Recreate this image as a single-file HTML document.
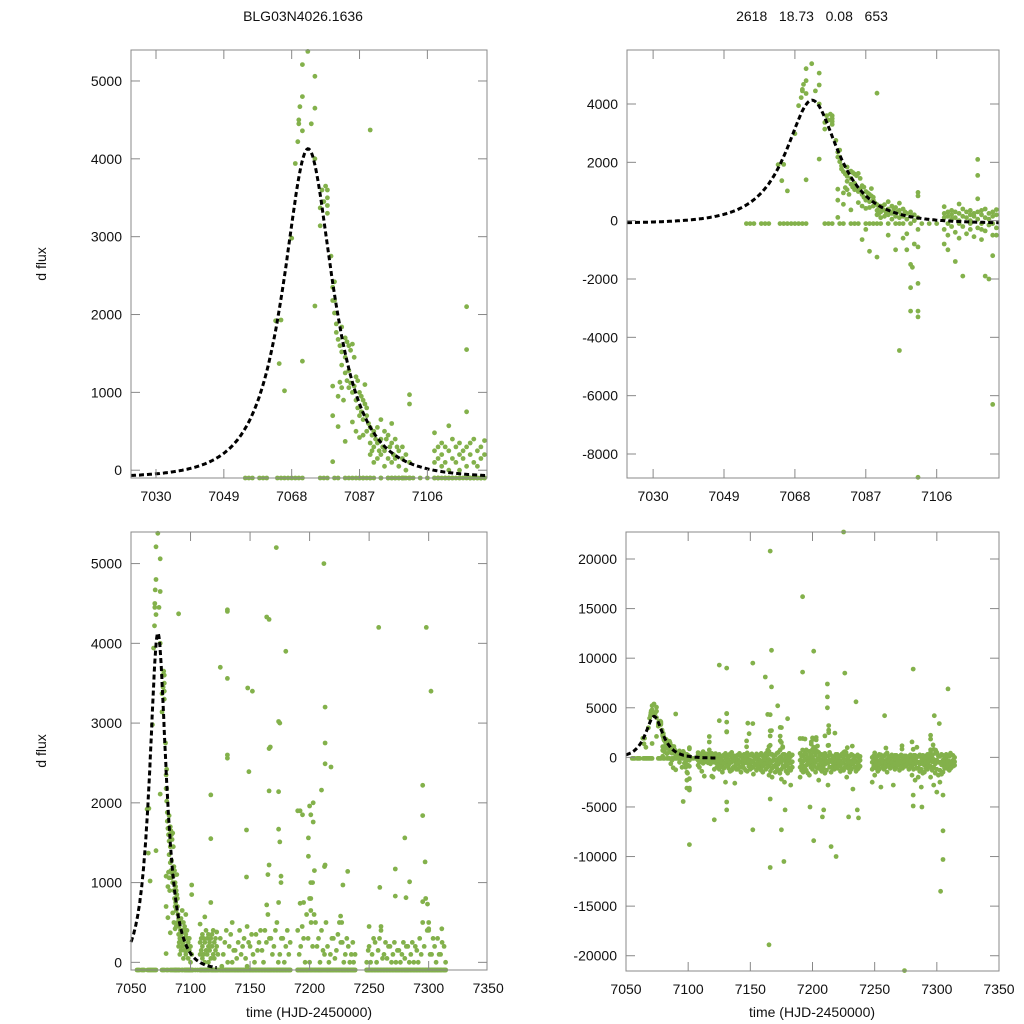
<!DOCTYPE html>
<html><head><meta charset="utf-8"><style>
html,body{margin:0;padding:0;background:#fff}
svg{display:block;font-family:"Liberation Sans",Arial,sans-serif}
</style></head><body>
<svg id="chart" width="1024" height="1024" viewBox="0 0 1024 1024">
<text x="303" y="21" font-size="14" text-anchor="middle" fill="#111">BLG03N4026.1636</text>
<text x="812" y="21" font-size="14" text-anchor="middle" fill="#111" xml:space="preserve">2618   18.73   0.08   653</text>
<text x="0" y="0" font-size="14" text-anchor="middle" fill="#111" transform="translate(46,264) rotate(-90)">d flux</text>
<text x="0" y="0" font-size="14" text-anchor="middle" fill="#111" transform="translate(46,751) rotate(-90)">d flux</text>
<text x="309" y="1017" font-size="14" text-anchor="middle" fill="#111">time (HJD-2450000)</text>
<text x="812" y="1017" font-size="14" text-anchor="middle" fill="#111">time (HJD-2450000)</text>
</svg>
<script>
// model parameters: t0, tE, u0, source-flux scale, baseline
const modelParams=[7072.6,12.8,0.6,4785,-100];
const topXTicks=[7030,7049,7068,7087,7106];
const bottomXTicks=[7050,7100,7150,7200,7250,7300,7350];
const tlYTicks=[0,1000,2000,3000,4000,5000];
const trYTicks=[-8000,-6000,-4000,-2000,0,2000,4000];
const blYTicks=[0,1000,2000,3000,4000,5000];
const brYTicks=[-20000,-15000,-10000,-5000,0,5000,10000,15000,20000];
// baseline (flagged) observations
const baseTimes=[7055,7056,7057,7059,7060,7061,7064,7065,7066,7067,7068,7069,7070,7071,7076,7077,7078,7080,7081,7083,7084,7085,7087,7088,7089,7090,7091,7093,7095,7096,7097,7099,7102,7104,7106,7109,7112,7115,7118,7121];
// peak observations [time, flux]
const peakObs=[[7063.5,1920],[7065,1930],[7064.5,1370],[7066,1020],[7068,2980],[7069,3940],[7069.7,4220],[7070,4450],[7070,4500],[7070.3,4670],[7071,4800],[7071,5210],[7071,4360],[7071,1400],[7072.5,5380],[7073.5,4450],[7074.5,5060],[7074.5,4650],[7074.5,4000],[7074.5,2110],[7076,3370],[7076,3140],[7076.5,3600],[7077,3450],[7077.5,3650],[7078,3600],[7078,3500],[7078,3300],[7078,3400],[7079,2750],[7079.5,2350],[7079.5,2180],[7080,2420],[7080,2180],[7080,2020],[7079.5,1080],[7079.5,700],[7079.5,110],[7080.5,1880],[7080.5,1770],[7081,1680],[7081,950],[7081,560],[7081.5,1600],[7081.5,1130],[7082,1520],[7082,1350],[7082,1840],[7082,1060],[7082.5,900],[7083,1700],[7083,1450],[7083,1250],[7083,370],[7083.5,1650],[7083.5,1150],[7084,1600],[7084,1280],[7084,1060],[7084.5,1540],[7084.5,1120],[7085,1620],[7085,1000],[7085,620],[7085.5,1450],[7085.5,1080],[7086,1200],[7086,900],[7086,500],[7086.5,1150],[7086.5,800],[7087,1000],[7087,700],[7087,420],[7087.5,950],[7087.5,750],[7088,900],[7088,650],[7088,450],[7088.5,1100],[7088.5,850],[7089,800],[7089,700],[7089,500],[7089.5,600],[7090,4370],[7090,550],[7090,350],[7090,200],[7090.5,450],[7090.5,250],[7091,500],[7091,300],[7091,100],[7091.5,400],[7092,550],[7092,350],[7092,150],[7092.5,250],[7093,650],[7093,400],[7093,200],[7093.5,300],[7094,500],[7094,250],[7094,50],[7094.5,400],[7095,450],[7095,150],[7095.5,300],[7096,600],[7096,350],[7096,100],[7096.5,200],[7097,400],[7097,150],[7097.5,300],[7098,250],[7098,50],[7099,300],[7099,150],[7100,200],[7100,0],[7101,970],[7101,850],[7101,100],
[7097,-600],[7098,-1000],[7098,-450],[7099,-1500],[7099,-2300],[7099,-3100],[7099.5,-1600],[7100,-800],[7101,-2150],[7101,-3100],[7101,-3300],[7101,-900],[7101,-300],[7096,-4450],[7101,-8800],[7088,-1050],[7090,-1250],[7086,-650],[7087,-300],[7093,-500],[7095,-1000]];
const lateObs=[[7108,480],[7108,100],[7108,250],[7108,-800],[7109,300],[7109,150],[7109,-1000],[7110,350],[7110,50],[7110,200],[7111,300],[7111,100],[7111,-1400],[7112,570],[7112,250],[7112,0],[7113,400],[7113,150],[7113,-1900],[7114,300],[7114,100],[7115,350],[7115,200],[7115,0],[7116,250],[7116,150],[7117,2100],[7117,1550],[7117,750],[7117,300],[7117,50],[7118,350],[7118,200],[7118,-300],[7119,400],[7119,100],[7119,-1900],[7120,250],[7120,-2000],[7120,50],[7121,300],[7121,150],[7121,-6300],[7121,-1200],[7122,200],[7122,-500],[7122,380],[7123,100],[7123,-1000],
[7108,-300],[7109,-500],[7110,-200],[7111,-400],[7112,-600],[7113,-200],[7114,-450],[7115,-300],[7116,-550],[7117,-250],[7118,-650],[7119,-350],[7120,-150],[7121,-500],[7122,-250],[7123,-600]];
// season clusters: time and flux samples
const clusterTimes=[7125,7127.5,7130,7132.5,7135,7137.5,7140,7142.5,7145,7147.5,7150,7152.5,7155,7157.5,7160,7162.5,7165,7167.5,7170,7172.5,7175,7177.5,7180,7182.5,
7190,7192.5,7195,7197.5,7200,7202.5,7205,7207.5,7210,7212.5,7215,7217.5,7220,7222.5,7225,7227.5,7230,7232.5,7235,7237,
7248,7250,7252.5,7255,7257.5,7260,7262.5,7265,7267.5,7270,7272.5,7275,7277.5,7280,7282.5,7285,7287.5,7290,7292.5,7295,7297.5,7300,7302.5,7305,7307.5,7310,7313];
const clusterFlux=[[300,-200,-700,-1200],[100,-400,-900,-1500],[400,-100,-600,-2500],[200,-300,-800,-1100],[500,0,-500,-1300],[150,-350,-900,-2600],[250,-250,-700,-1200],[100,-450,-1000,-1500],[300,-150,-600,-1100],[450,-50,-550,-1400],[200,-300,-800,-1200],[100,-400,-1000,-1700],[350,-200,-700,-1300],[250,-250,-750,-1100],[150,-350,-900,-1500],[400,-100,-600,-1200],[600,-200,-900,-1800],[300,-400,-1100,-2000],[200,-300,-800,-1500],[500,-150,-700,-1300],[100,-500,-1200,-2200],[300,-300,-1000,-2500],[200,-400,-900,-1600],[100,-600,-1300,-2800],
[400,-300,-1000,-2000],[200,-400,-900,-1500],[300,-200,-800,-1300],[600,-100,-700,-1800],[800,0,-600,-1200],[1000,200,-500,-1500],[500,-100,-800,-2300],[300,-300,-900,-1400],[400,-200,-700,-1600],[1200,100,-600,-2800],[200,-400,-1000,-1500],[100,-300,-800,-1200],[300,-200,-700,-1100],[150,-350,-900,-1400],[500,-100,-600,-1300],[250,-250,-800,-2000],[100,-400,-900,-1500],[200,-300,-700,-3200],[100,-400,-1000,-1400],[0,-500,-1100,-800],
[0,-500,-1200,-2500],[200,-300,-800,-1800],[100,-400,-900,-1400],[250,-250,-700,-3000],[150,-350,-800,-1200],[400,-200,-600,-1500],[100,-300,-700,-1100],[50,-400,-900,-2800],[200,-250,-600,-1000],[100,-350,-700,-1300],[0,-300,-600,-1100],[150,-250,-500,-900],[100,-300,-700,-1200],[50,-400,-900,-1800],[200,-200,-700,-2300],[100,-500,-1100,-2000],[0,-400,-1200,-3000],[150,-300,-800,-1500],[300,-200,-700,-1200],[500,-100,-900,-2000],[800,-200,-1000,-2800],[400,-300,-1200,-3500],[100,-500,-1300,-2500],[200,-300,-800,-1500],[300,-200,-700,-1100],[100,-400,-900,-1300],[200,-300,-600,-900]];
// second pass samples in each cluster, taken 1.25 d later
const clusterFluxB=[[-50,-450,-950],[250,-600,-1100],[0,-350,-850],[350,-550,-1400],[150,-250,-1000],[50,-650,-1200],[400,-450,-950],[200,-150,-800],[50,-400,-1300],[250,-350,-900],[350,-500,-1050],[0,-200,-800],[150,-550,-1000],[400,-450,-1300],[0,-150,-700],[250,-500,-1000],[300,-600,-1400],[100,-200,-900],[400,-550,-1100],[0,-400,-1600],[300,-200,-900],[0,-650,-1400],[400,-150,-1100],[250,-450,-1000],
[100,-650,-1300],[450,-150,-1100],[0,-500,-1600],[300,-400,-1000],[500,-300,-900],[600,-250,-1100],[200,-450,-1200],[0,-600,-1100],[150,-400,-1300],[500,-300,-1000],[0,-550,-1200],[300,-500,-1000],[50,-450,-900],[350,-600,-1200],[250,-300,-1000],[0,-500,-1100],[300,-600,-1200],[0,-450,-1000],[250,-650,-1200],[100,-300,-900],
[150,-250,-900],[0,-550,-1100],[300,-650,-1200],[0,-450,-1000],[300,-550,-1000],[50,-400,-900],[250,-500,-900],[200,-650,-1200],[0,-450,-800],[250,-500,-1000],[150,-450,-900],[0,-400,-700],[250,-500,-1000],[200,-650,-1200],[0,-450,-1100],[250,-700,-1400],[200,-650,-1600],[0,-500,-1100],[100,-450,-1000],[200,-450,-1300],[400,-650,-1600],[100,-500,-1800],[300,-750,-1700],[0,-500,-1100],[100,-450,-900],[250,-600,-1100],[0,-450,-800]];
const outlierObs=[[7125,9300],[7131,9000],[7131,4400],[7131,2600],[7125,3700],[7131,-4500],[7131,-5300],[7152,9500],[7152,3400],[7152,-7300],[7162,8100],[7166,4300],[7167,10800],[7167,7100],[7167,2700],[7166,20800],[7166,-11100],[7166,-4200],[7172,5200],[7175,3000],[7175,-7300],[7177,-10500],[7178,-5300],[7180,3900],[7165,-18900],[7192,16200],[7192,8600],[7192,1900],[7201,10700],[7201,-8400],[7198,-5000],[7212,7400],[7212,6100],[7212,5000],[7213,3200],[7215,-9000],[7219,-10000],[7208,-6000],[7209,-5300],[7225,22800],[7226,8500],[7229,-6000],[7235,5600],[7237,-6100],[7236,-5300],[7258,4200],[7274,-21500],[7281,8900],[7281,-3800],[7281,-4900],[7288,-5000],[7298,4200],[7302,3400],[7303,-13500],[7305,-10300],[7305,-7400],[7305,-3800],[7309,6900],
[7131,4420],[7131,3560],[7131,2560],[7148,3440],[7149,2390],[7147,1660],[7147,1070],[7164,4330],[7166,2680],[7166,2150],[7166,1220],[7165,1100],[7174,3020],[7174,2140],[7174,1670],[7175,1510],[7176,1080],[7176,1000],[7190,1900],[7194,1850],[7199,1560],[7199,1330],[7200,1960],[7201,1850],[7203,2000],[7203,1760],[7201,1000],[7201,800],[7201,650],[7210,2160],[7213,2750],[7213,2490],[7213,1220],[7204,1150],[7218,2450],[7228,970],[7232,1140],[7259,940],[7272,1170],[7272,830],[7280,1560],[7284,1010],[7281,810],[7295,2220],[7295,1840],[7297,1260],[7295,760],[7299,730],[7192,740],[7195,750],[7164,720],[7174,750],[7226,580],[7227,500],[7300,500],[7300,420],[7250,450],[7260,450],[7311,420]];

const svg=document.getElementById('chart');
const NS='http://www.w3.org/2000/svg';
function mk(tag,attrs,parent){const e=document.createElementNS(NS,tag);for(const k in attrs)e.setAttribute(k,attrs[k]);(parent||svg).appendChild(e);return e;}

const obs=[];
baseTimes.forEach(t=>obs.push([t,-100]));
peakObs.forEach(p=>obs.push(p));
lateObs.forEach(p=>obs.push(p));
clusterTimes.forEach((t,i)=>clusterFlux[i].forEach(f=>obs.push([t,f])));
clusterTimes.forEach((t,i)=>{if(clusterFluxB[i])clusterFluxB[i].forEach(f=>obs.push([t+1.25,f]));});
outlierObs.forEach(p=>obs.push(p));

function model(t){const [t0,tE,u0,K,b]=modelParams;const dt=(t-t0)/tE;const u2=u0*u0+dt*dt;const u=Math.sqrt(u2);const A=(u2+2)/(u*Math.sqrt(u2+4));return b+K*(A-1);}

const panels=[
 {name:'top-left',x0:131,x1:487,y0:50,y1:478,xd:[7023,7122.7],yd:[-100,5398],xt:topXTicks,yt:tlYTicks,m:[7023,7122.7],r:2.4},
 {name:'top-right',x0:627,x1:999,y0:50,y1:478,xd:[7023,7122.7],yd:[-8823,5851],xt:topXTicks,yt:trYTicks,m:[7023,7122.7],r:2.4},
 {name:'bottom-left',x0:131,x1:487,y0:532,y1:970,xd:[7050,7349],yd:[-96,5396],xt:bottomXTicks,yt:blYTicks,m:[7050,7122],r:2.4},
 {name:'bottom-right',x0:626,x1:999,y0:532,y1:971,xd:[7050,7350],yd:[-21540,22723],xt:bottomXTicks,yt:brYTicks,m:[7050,7122],r:2.4}
];
panels.forEach(p=>{
 const sx=t=>p.x0+(t-p.xd[0])/(p.xd[1]-p.xd[0])*(p.x1-p.x0);
 const sy=f=>p.y1-(f-p.yd[0])/(p.yd[1]-p.yd[0])*(p.y1-p.y0);
 const g=mk('g',{});
 
 
 const pts=mk('g',{fill:'#83b14b'},g);
 
 
 obs.forEach(o=>{
  if(o[0]<p.xd[0]||o[0]>p.xd[1])return;
  if(o[1]>p.yd[1]+100)return;
  let f=Math.max(p.yd[0],Math.min(p.yd[1],o[1]));
  const c=mk('circle',{cx:sx(o[0]).toFixed(1),cy:sy(f).toFixed(1),r:p.r},pts);
  
  
 });
 let d='';
 for(let t=p.m[0];t<=p.m[1]+1e-9;t+=(p.m[1]-p.m[0])/300){d+=(d?'L':'M')+sx(t).toFixed(1)+','+sy(model(t)).toFixed(1);}
 const line=mk('path',{d:d,fill:'none',stroke:'#000','stroke-width':3,'stroke-dasharray':'5,3'},g);
 
 
 const fr=mk('rect',{x:p.x0,y:p.y0,width:p.x1-p.x0,height:p.y1-p.y0,fill:'none',stroke:'#888','stroke-width':1},g);
 
 
 p.xt.forEach(t=>{
  const x=sx(t);
  if(x>p.x0+1&&x<p.x1-1){mk('line',{x1:x,y1:p.y1,x2:x,y2:p.y1-9,stroke:'#888'},g);mk('line',{x1:x,y1:p.y0,x2:x,y2:p.y0+9,stroke:'#888'},g);}
  const tx=mk('text',{x:x,y:p.y1+23,'font-size':14,'text-anchor':'middle',fill:'#111'},g);
  tx.textContent=t;
  
  
 });
 p.yt.forEach(f=>{
  const y=sy(f);
  mk('line',{x1:p.x0,y1:y,x2:p.x0+9,y2:y,stroke:'#888'},g);mk('line',{x1:p.x1,y1:y,x2:p.x1-9,y2:y,stroke:'#888'},g);
  const tx=mk('text',{x:p.x0-9,y:y+5,'font-size':14,'text-anchor':'end',fill:'#111'},g);
  tx.textContent=f;
  
  
 });
});
</script>
</body></html>
